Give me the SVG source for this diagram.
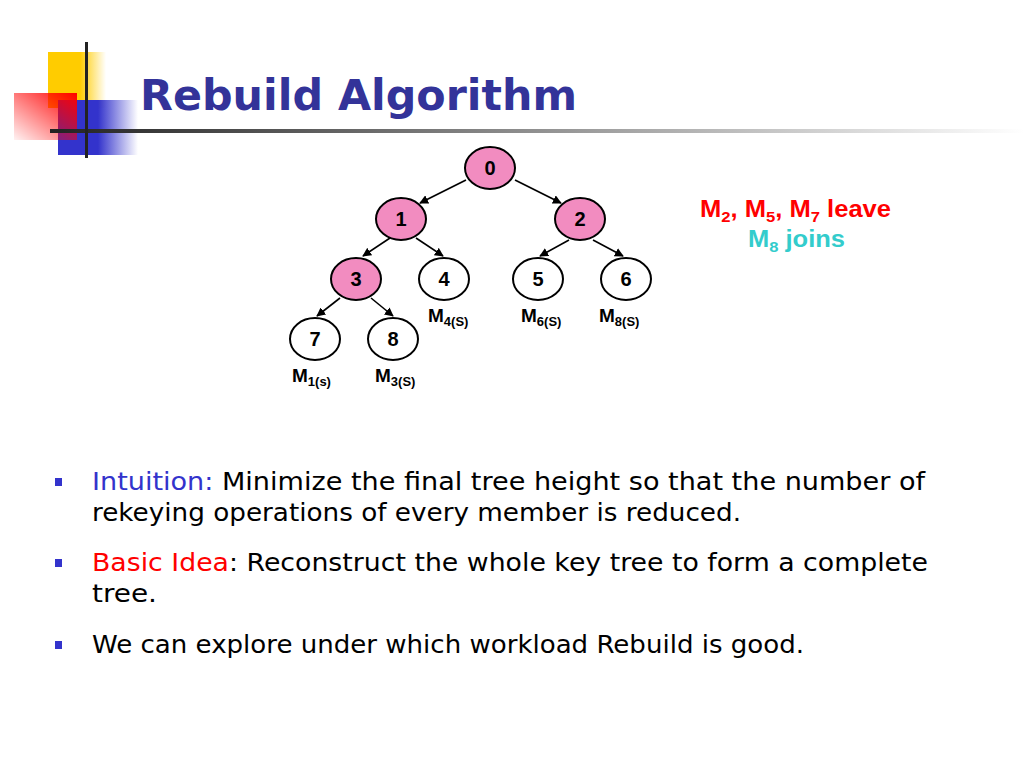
<svg xmlns="http://www.w3.org/2000/svg" width="1024" height="768" viewBox="0 0 1024 768">
<defs>
<linearGradient id="gY" x1="0" y1="0" x2="1" y2="0"><stop offset="0" stop-color="#ffcc00"/><stop offset="0.55" stop-color="#ffcc00"/><stop offset="1" stop-color="#ffcc00" stop-opacity="0"/></linearGradient>
<linearGradient id="gB" x1="0" y1="0" x2="1" y2="0"><stop offset="0" stop-color="#3333cc"/><stop offset="0.5" stop-color="#3333cc"/><stop offset="1" stop-color="#3333cc" stop-opacity="0"/></linearGradient>
<linearGradient id="gR" x1="1" y1="0" x2="0" y2="1"><stop offset="0" stop-color="#ff0000"/><stop offset="1" stop-color="#ff0000" stop-opacity="0.05"/></linearGradient>
<linearGradient id="gL" x1="0" y1="0" x2="1" y2="0"><stop offset="0" stop-color="#222222"/><stop offset="1" stop-color="#ffffff"/></linearGradient>
<marker id="ah" viewBox="0 0 10 10" refX="9" refY="5" markerWidth="9" markerHeight="9" markerUnits="userSpaceOnUse" orient="auto"><path d="M0,0 L10,5 L0,10 z" fill="#000"/></marker>
</defs>
<style>
.node ellipse{stroke:#000;stroke-width:2}
.hot ellipse{fill:#f28cc0}
.cold ellipse{fill:#fff}
.nl{font-family:"Liberation Sans",Arial,sans-serif;font-weight:bold;font-size:20px;text-anchor:middle;fill:#000}
.ml{font-family:"Liberation Sans",Arial,sans-serif;font-weight:bold;font-size:19px;fill:#000}
.sub{font-size:13px}
.edge{stroke:#000;stroke-width:1.6;fill:none;marker-end:url(#ah)}
.body{font-family:"DejaVu Sans","Liberation Sans",sans-serif;font-size:25px;fill:#000}
.bul{fill:#3333cc}
</style>
<rect width="1024" height="768" fill="#fff"/>
<g id="decoration">
<rect x="48" y="52" width="58" height="56" fill="url(#gY)"/>
<rect x="58" y="100" width="80" height="55" fill="url(#gB)"/>
<rect x="14" y="93" width="63" height="47" fill="url(#gR)"/>
<rect x="50" y="129" width="974" height="4" fill="url(#gL)"/>
<rect x="85" y="42" width="3" height="116" fill="#222"/>
</g>
<text id="title" x="140" y="110" font-family="'Comic Sans MS','DejaVu Sans',sans-serif" font-weight="bold" font-size="42" fill="#333399" textLength="437" lengthAdjust="spacingAndGlyphs">Rebuild Algorithm</text>
<g id="connectors">
<line class="edge" x1="466" y1="180" x2="420" y2="203"/>
<line class="edge" x1="515" y1="180" x2="561" y2="203"/>
<line class="edge" x1="390" y1="238" x2="363" y2="256"/>
<line class="edge" x1="416" y1="238" x2="443" y2="256"/>
<line class="edge" x1="569" y1="240" x2="540" y2="256"/>
<line class="edge" x1="593" y1="240" x2="623" y2="256"/>
<line class="edge" x1="340" y1="298" x2="317" y2="316"/>
<line class="edge" x1="371" y1="298" x2="393" y2="316"/>
</g>
<g id="n0" class="node hot"><ellipse cx="490" cy="168" rx="25" ry="21"/><text class="nl" x="490" y="175">0</text></g>
<g id="n1" class="node hot"><ellipse cx="401" cy="219" rx="25" ry="21"/><text class="nl" x="401" y="226">1</text></g>
<g id="n2" class="node hot"><ellipse cx="580" cy="219" rx="25" ry="21"/><text class="nl" x="580" y="226">2</text></g>
<g id="n3" class="node hot"><ellipse cx="356" cy="279" rx="25" ry="21"/><text class="nl" x="356" y="286">3</text></g>
<g id="n4" class="node cold"><ellipse cx="444" cy="279" rx="25" ry="21"/><text class="nl" x="444" y="286">4</text></g>
<g id="n5" class="node cold"><ellipse cx="538" cy="279" rx="25" ry="21"/><text class="nl" x="538" y="286">5</text></g>
<g id="n6" class="node cold"><ellipse cx="626" cy="279" rx="25" ry="21"/><text class="nl" x="626" y="286">6</text></g>
<g id="n7" class="node cold"><ellipse cx="315" cy="339" rx="25" ry="21"/><text class="nl" x="315" y="346">7</text></g>
<g id="n8" class="node cold"><ellipse cx="393" cy="339" rx="25" ry="21"/><text class="nl" x="393" y="346">8</text></g>
<g id="members">
<text class="ml" x="428" y="322">M<tspan class="sub" dy="4">4(S)</tspan></text>
<text class="ml" x="521" y="322">M<tspan class="sub" dy="4">6(S)</tspan></text>
<text class="ml" x="599" y="322">M<tspan class="sub" dy="4">8(S)</tspan></text>
<text class="ml" x="292" y="382">M<tspan class="sub" dy="4">1(s)</tspan></text>
<text class="ml" x="375" y="382">M<tspan class="sub" dy="4">3(S)</tspan></text>
</g>
<g id="events" font-family="'Liberation Sans',Arial,sans-serif" font-weight="bold" font-size="23">
<text x="700" y="217" fill="#ff0000" textLength="191" lengthAdjust="spacingAndGlyphs">M<tspan font-size="15" dy="5">2</tspan><tspan dy="-5">, M</tspan><tspan font-size="15" dy="5">5</tspan><tspan dy="-5">, M</tspan><tspan font-size="15" dy="5">7</tspan><tspan dy="-5"> leave</tspan></text>
<text x="748" y="247" fill="#33cccc" textLength="97" lengthAdjust="spacingAndGlyphs">M<tspan font-size="15" dy="5">8</tspan><tspan dy="-5"> joins</tspan></text>
</g>
<g id="bullets">
<rect class="bul" x="55" y="478" width="7" height="8"/>
<rect class="bul" x="55" y="559" width="7" height="8"/>
<rect class="bul" x="55" y="641" width="7" height="8"/>
<text class="body" x="92" y="490" textLength="833" lengthAdjust="spacingAndGlyphs"><tspan fill="#3333cc">Intuition:</tspan> Minimize the final tree height so that the number of</text>
<text class="body" x="92" y="521" textLength="649" lengthAdjust="spacingAndGlyphs">rekeying operations of every member is reduced.</text>
<text class="body" x="92" y="571" textLength="836" lengthAdjust="spacingAndGlyphs"><tspan fill="#ff0000">Basic Idea</tspan>: Reconstruct the whole key tree to form a complete</text>
<text class="body" x="92" y="602" textLength="65" lengthAdjust="spacingAndGlyphs">tree.</text>
<text class="body" x="92" y="653" textLength="712" lengthAdjust="spacingAndGlyphs">We can explore under which workload Rebuild is good.</text>
</g>
</svg>
